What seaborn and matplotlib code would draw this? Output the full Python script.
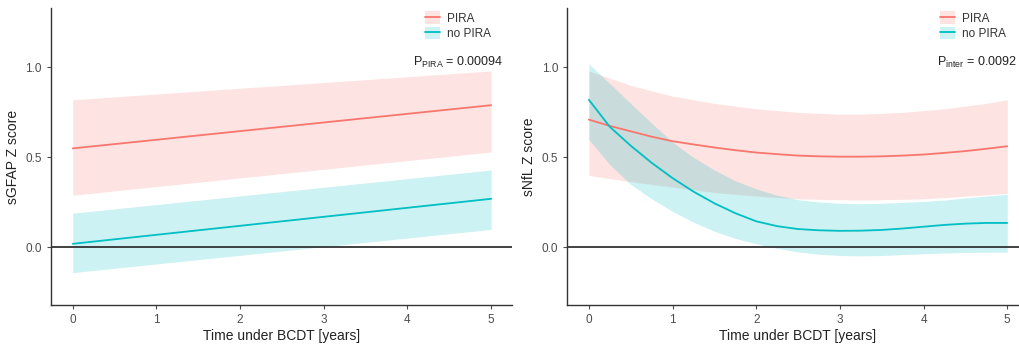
import numpy as np
import pandas as pd
import matplotlib
matplotlib.use("Agg")
import matplotlib.pyplot as plt
import seaborn as sns
from matplotlib.patches import Patch
from matplotlib.lines import Line2D

sns.set_theme(style="ticks")
plt.rcParams['font.family'] = ['Liberation Sans', 'DejaVu Sans']

groups = ["PIRA", "no PIRA"]
colors = {"PIRA": "#F8766D", "no PIRA": "#00BFC4"}

# Left panel: sGFAP (linear)
gfap_x = [0, 5]
gfap_pira = [0.55, 0.79]
gfap_pira_lo = [0.29, 0.53]
gfap_pira_hi = [0.82, 0.98]
gfap_nopira = [0.02, 0.27]
gfap_nopira_lo = [-0.14, 0.10]
gfap_nopira_hi = [0.19, 0.43]

# Right panel: sNfL (spline), read every 0.25 years
nfl_x = [0, 0.25, 0.5, 0.75, 1, 1.25, 1.5, 1.75, 2, 2.25, 2.5, 2.75, 3,
         3.25, 3.5, 3.75, 4, 4.25, 4.5, 4.75, 5]
nfl_pira = [0.71, 0.675, 0.645, 0.615, 0.59, 0.572, 0.555, 0.54, 0.527, 0.518, 0.51,
            0.506, 0.504, 0.504, 0.506, 0.51, 0.516, 0.525, 0.535, 0.548, 0.562]
nfl_pira_lo = [0.40, 0.382, 0.365, 0.35, 0.335, 0.32, 0.305, 0.295, 0.285, 0.277, 0.27,
               0.267, 0.265, 0.264, 0.265, 0.267, 0.27, 0.277, 0.285, 0.292, 0.30]
nfl_pira_hi = [0.98, 0.94, 0.90, 0.87, 0.84, 0.82, 0.80, 0.785, 0.77, 0.76, 0.75,
               0.745, 0.74, 0.74, 0.745, 0.75, 0.76, 0.77, 0.785, 0.80, 0.82]
nfl_nopira = [0.82, 0.67, 0.565, 0.47, 0.385, 0.31, 0.245, 0.19, 0.145, 0.118, 0.102,
              0.095, 0.092, 0.093, 0.097, 0.105, 0.115, 0.125, 0.132, 0.136, 0.136]
nfl_nopira_lo = [0.60, 0.46, 0.35, 0.27, 0.20, 0.14, 0.09, 0.05, 0.02, -0.005, -0.025,
                 -0.038, -0.045, -0.047, -0.045, -0.04, -0.035, -0.031, -0.028, -0.027, -0.026]
nfl_nopira_hi = [1.02, 0.91, 0.80, 0.69, 0.585, 0.50, 0.43, 0.37, 0.325, 0.29, 0.265,
                 0.252, 0.245, 0.243, 0.245, 0.25, 0.255, 0.263, 0.275, 0.285, 0.295]

ylabels = ["sGFAP Z score", "sNfL Z score"]
xlabel = "Time under BCDT [years]"
pvals = [("PIRA", "0.00094"), ("inter", "0.0092")]

fig = plt.figure(figsize=(10.2, 3.47), dpi=100)
ax1 = fig.add_axes([0.050, 0.121, 0.452, 0.856])
ax2 = fig.add_axes([0.556, 0.121, 0.452, 0.856])

panels = [
    (ax1, gfap_x, {"PIRA": (gfap_pira, gfap_pira_lo, gfap_pira_hi),
                   "no PIRA": (gfap_nopira, gfap_nopira_lo, gfap_nopira_hi)}),
    (ax2, nfl_x, {"PIRA": (nfl_pira, nfl_pira_lo, nfl_pira_hi),
                  "no PIRA": (nfl_nopira, nfl_nopira_lo, nfl_nopira_hi)}),
]

for i, (ax, xs, d) in enumerate(panels):
    rows = []
    for g in groups:
        m, lo, hi = d[g]
        ax.fill_between(xs, lo, hi, color=colors[g], alpha=0.2, lw=0, zorder=1)
        for xv, yv in zip(xs, m):
            rows.append({"x": xv, "y": yv, "group": g})
    df = pd.DataFrame(rows)
    sns.lineplot(data=df, x="x", y="y", hue="group", palette=colors, ax=ax,
                 legend=False, lw=1.3, zorder=3)
    ax.axhline(0, color="#333333", lw=1.3, zorder=2)
    ax.set_xlim(-0.26, 5.25)
    ax.set_ylim(-0.32, 1.33)
    ax.set_xticks([0, 1, 2, 3, 4, 5])
    ax.set_yticks([0.0, 0.5, 1.0])
    ax.set_yticklabels(["0.0", "0.5", "1.0"])
    ax.set_xlabel(xlabel, fontsize=10, color="#222222", labelpad=2)
    ax.set_ylabel(ylabels[i], fontsize=10, color="#222222", labelpad=4)
    ax.tick_params(axis="both", labelsize=8.5, colors="#4D4D4D", length=3, width=0.8)
    for s in ["left", "bottom"]:
        ax.spines[s].set_color("#333333")
        ax.spines[s].set_linewidth(1.0)
    sns.despine(ax=ax)
    handles = [(Patch(facecolor=colors[g], alpha=0.2, edgecolor="none"),
                Line2D([], [], color=colors[g], lw=1.3)) for g in groups]
    leg = ax.legend(handles, groups, loc="upper right",
                    bbox_to_anchor=(0.97 if i == 0 else 0.968, 1.012),
                    frameon=False, fontsize=8.5, handlelength=1.3, handleheight=1.2,
                    handletextpad=0.6, labelspacing=0.2, borderaxespad=0.2)
    for t in leg.get_texts():
        t.set_color("#333333")
    sub, val = pvals[i]
    ax.text(0.98 if i == 0 else 0.976, 0.815, r"P$_{\mathregular{%s}}$ = %s" % (sub, val),
            transform=ax.transAxes, ha="right", va="center", fontsize=9, color="#222222")

fig.savefig("out.png", dpi=100)
